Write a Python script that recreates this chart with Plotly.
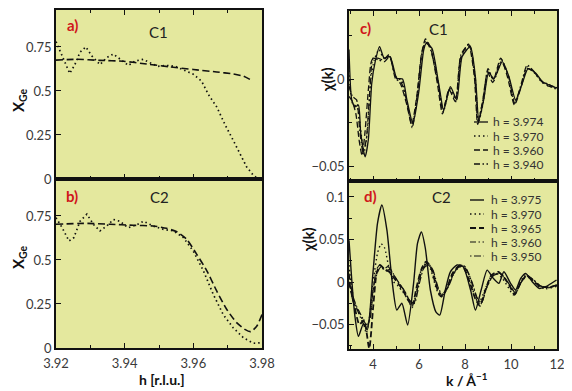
import plotly.graph_objects as go

# page body has an 8px margin; the figure is sized to fill the rest of the window
OFF = 8
W, H = 572 - OFF, 391 - OFF

# ---------------- Panel a (C1): X_Ge vs h ----------------
a_dash_h = [3.920, 3.926, 3.9328, 3.9396, 3.9464, 3.9532, 3.960, 3.9668, 3.9716, 3.9746, 3.977]
a_dash_x = [0.675, 0.68, 0.674, 0.669, 0.653, 0.637, 0.622, 0.608, 0.597, 0.584, 0.56]
a_dot_h = [3.920, 3.9217, 3.924, 3.9255, 3.927, 3.9287, 3.9304, 3.9328, 3.9348, 3.9367, 3.9386,
           3.9411, 3.943, 3.9454, 3.9474, 3.9497, 3.9522, 3.9547, 3.9571, 3.960, 3.9624, 3.9644,
           3.9668, 3.9692, 3.9716, 3.9736, 3.9755, 3.9775, 3.979]
a_dot_x = [0.78, 0.70, 0.60, 0.65, 0.72, 0.75, 0.70, 0.65, 0.69, 0.71, 0.68,
           0.645, 0.67, 0.68, 0.66, 0.64, 0.645, 0.64, 0.62, 0.595, 0.556, 0.48,
           0.41, 0.31, 0.22, 0.145, 0.07, 0.02, 0.0]

# ---------------- Panel b (C2): X_Ge vs h ----------------
b_dash_h = [3.920, 3.928, 3.9357, 3.9425, 3.9483, 3.9522, 3.9552, 3.9581, 3.961, 3.9639,
            3.9668, 3.9697, 3.9726, 3.975, 3.9767, 3.9785, 3.980]
b_dash_x = [0.703, 0.708, 0.703, 0.697, 0.693, 0.68, 0.66, 0.617, 0.532, 0.44,
            0.324, 0.22, 0.144, 0.106, 0.093, 0.125, 0.19]
b_dot_h = [3.920, 3.9218, 3.9238, 3.9252, 3.927, 3.929, 3.931, 3.9328, 3.9348, 3.9367, 3.9386,
           3.941, 3.9435, 3.9455, 3.9483, 3.9513, 3.9542, 3.9571, 3.960, 3.9629, 3.9658,
           3.9687, 3.9716, 3.9746, 3.9775, 3.980]
b_dot_x = [0.74, 0.683, 0.608, 0.627, 0.72, 0.76, 0.70, 0.665, 0.693, 0.73, 0.72,
           0.683, 0.70, 0.72, 0.693, 0.674, 0.665, 0.627, 0.55, 0.44, 0.305,
           0.19, 0.115, 0.058, 0.027, 0.03]

# ---------------- Panel c (C1): chi(k) ----------------
c_labels = ["h = 3.974", "h = 3.970", "h = 3.960", "h = 3.940"]
c1_k = [2.95, 3.07, 3.21, 3.36, 3.46, 3.65, 3.79, 3.94, 4.09, 4.28, 4.48, 4.74, 5.03, 5.28, 5.47,
        5.73, 5.98, 6.2, 6.31, 6.56, 6.85, 7.07, 7.36, 7.64, 7.87, 8.23, 8.45, 8.6, 8.81, 9.03,
        9.25, 9.62, 9.91, 10.2, 10.49, 10.74, 11.08, 11.37, 11.66, 11.98]
c1_chi = [0.017, -0.012, -0.016, -0.015, -0.031, -0.0447, -0.035, -0.0025, 0.010, 0.0186, 0.012,
          0.0128, 0.0004, 0.0, -0.012, -0.0255, -0.008, 0.0167, 0.0205, 0.0176, -0.0025, -0.0178,
          -0.0044, -0.012, 0.0128, 0.0186, 0.0013, -0.0236, -0.012, 0.004, 0.0, 0.010, 0.0013,
          -0.012, -0.0025, 0.006, 0.0033, -0.0016, -0.0034, -0.0053]
c2_k = [2.95, 3.1, 3.3, 3.45, 3.6, 3.75, 3.9, 4.05, 4.25, 4.45, 4.7, 5.0, 5.25, 5.45, 5.7, 5.95,
        6.15, 6.3, 6.55, 6.85, 7.05, 7.35, 7.6, 7.85, 8.2, 8.45, 8.58, 8.8, 9.0, 9.25, 9.6, 9.9,
        10.18, 10.47, 10.72, 11.05, 11.35, 11.65, 12.0]
c2_chi = [0.005, -0.014, -0.016, -0.028, -0.043, -0.03, 0.0, 0.011, 0.017, 0.012, 0.013, 0.001,
          -0.001, -0.013, -0.027, -0.007, 0.016, 0.021, 0.017, -0.004, -0.019, -0.005, -0.013,
          0.013, 0.019, 0.0, -0.025, -0.013, 0.005, -0.001, 0.011, 0.001, -0.013, -0.003, 0.007,
          0.003, -0.002, -0.004, -0.006]
c3_k = [2.95, 3.1, 3.25, 3.4, 3.52, 3.65, 3.8, 3.95, 4.2, 4.45, 4.7, 4.95, 5.2, 5.45, 5.68, 5.9,
        6.1, 6.28, 6.5, 6.8, 7.02, 7.3, 7.58, 7.8, 8.15, 8.4, 8.55, 8.75, 8.98, 9.2, 9.55, 9.85,
        10.15, 10.45, 10.7, 11.0, 11.3, 11.6, 12.0]
c3_chi = [-0.01, -0.013, -0.02, -0.036, -0.044, -0.03, -0.005, 0.011, 0.012, 0.011, 0.014, 0.002,
          -0.003, -0.014, -0.026, -0.01, 0.014, 0.023, 0.018, -0.003, -0.02, -0.006, -0.013, 0.012,
          0.02, 0.002, -0.026, -0.014, 0.004, -0.002, 0.012, 0.001, -0.015, -0.004, 0.006, 0.004,
          -0.001, -0.004, -0.005]
c4_k = [2.95, 3.1, 3.28, 3.42, 3.56, 3.7, 3.85, 4.0, 4.22, 4.5, 4.72, 4.98, 5.22, 5.45, 5.7, 5.92,
        6.12, 6.3, 6.52, 6.82, 7.04, 7.32, 7.6, 7.82, 8.18, 8.42, 8.56, 8.78, 9.0, 9.22, 9.58, 9.88,
        10.16, 10.46, 10.7, 11.02, 11.32, 11.62, 12.0]
c4_chi = [-0.004, -0.01, -0.012, -0.03, -0.042, -0.035, -0.008, 0.012, 0.011, 0.010, 0.013, 0.0,
          -0.002, -0.012, -0.028, -0.009, 0.015, 0.022, 0.016, -0.002, -0.018, -0.006, -0.011,
          0.014, 0.02, 0.001, -0.024, -0.012, 0.006, 0.0, 0.010, 0.002, -0.014, -0.002, 0.008,
          0.004, -0.001, -0.003, -0.005]

# ---------------- Panel d (C2): chi(k) ----------------
d_labels = ["h = 3.975", "h = 3.970", "h = 3.965", "h = 3.960", "h = 3.950"]
d1_k = [2.95, 3.07, 3.21, 3.36, 3.58, 3.75, 3.99, 4.19, 4.38, 4.6, 4.82, 5.03, 5.25, 5.5, 5.76,
        5.93, 6.1, 6.27, 6.49, 6.73, 6.9, 7.14, 7.36, 7.65, 7.92, 8.24, 8.45, 8.7, 8.96, 9.23,
        9.47, 9.69, 9.98, 10.2, 10.42, 10.64, 10.93, 11.22, 11.51, 11.98]
d1_chi = [0.049, 0.0024, -0.041, -0.064, -0.049, -0.056, 0.010, 0.069, 0.0906, 0.061, 0.0024,
          -0.033, -0.025, -0.0506, -0.0016, 0.0455, 0.059, 0.04, -0.0094, -0.035, -0.039, -0.0094,
          0.012, 0.02, 0.018, -0.0094, -0.033, -0.0094, 0.014, 0.0043, -0.0016, 0.012, -0.0016,
          -0.0094, 0.0043, 0.010, 0.0, -0.0075, -0.0055, 0.0024]
d2_k = [2.95, 3.15, 3.35, 3.55, 3.7, 3.85, 4.0, 4.2, 4.35, 4.5, 4.7, 4.9, 5.1, 5.3, 5.5, 5.7, 5.9,
        6.1, 6.3, 6.5, 6.75, 6.95, 7.15, 7.4, 7.65, 7.9, 8.15, 8.4, 8.6, 8.85, 9.1, 9.35, 9.6, 9.85,
        10.1, 10.35, 10.6, 10.9, 11.2, 11.5, 12.0]
d2_chi = [0.02, -0.02, -0.035, -0.045, -0.06, -0.04, 0.0, 0.035, 0.045, 0.04, 0.015, 0.0, -0.005,
          -0.012, -0.02, -0.03, -0.01, 0.015, 0.022, 0.015, -0.008, -0.018, -0.01, 0.005, 0.015,
          0.02, 0.01, -0.015, -0.025, -0.01, 0.005, 0.01, 0.005, -0.005, -0.015, -0.003, 0.008,
          0.003, -0.005, -0.008, -0.005]
d3_k = [2.95, 3.2, 3.4, 3.6, 3.83, 4.0, 4.15, 4.3, 4.5, 4.7, 4.9, 5.1, 5.3, 5.5, 5.7, 5.9, 6.1,
        6.3, 6.5, 6.75, 6.95, 7.2, 7.45, 7.7, 7.95, 8.2, 8.45, 8.65, 8.9, 9.15, 9.45, 9.7, 9.95,
        10.15, 10.4, 10.65, 10.95, 11.25, 11.6, 12.0]
d3_chi = [0.0, -0.03, -0.05, -0.045, -0.078, -0.03, 0.01, 0.02, 0.015, 0.012, 0.005, -0.002, -0.01,
          -0.02, -0.028, -0.005, 0.015, 0.024, 0.018, -0.005, -0.017, -0.008, 0.01, 0.018, 0.016,
          0.0, -0.02, -0.028, -0.008, 0.008, 0.012, 0.005, -0.005, -0.015, -0.002, 0.007, 0.002,
          -0.005, -0.006, -0.004]
d4_k = [2.95, 3.1, 3.3, 3.5, 3.7, 3.85, 4.0, 4.15, 4.3, 4.45, 4.65, 4.9, 5.1, 5.35, 5.55, 5.75,
        5.95, 6.15, 6.35, 6.55, 6.8, 7.0, 7.25, 7.5, 7.75, 8.0, 8.25, 8.5, 8.68, 8.92, 9.18, 9.45,
        9.7, 9.95, 10.18, 10.42, 10.68, 10.95, 11.25, 11.6, 12.0]
d4_chi = [0.01, -0.015, -0.03, -0.04, -0.05, -0.045, -0.01, 0.015, 0.02, 0.015, 0.018, 0.008, 0.0,
          -0.01, -0.02, -0.027, -0.005, 0.015, 0.022, 0.017, -0.006, -0.016, -0.006, 0.01, 0.02,
          0.018, 0.003, -0.018, -0.026, -0.008, 0.006, 0.011, 0.006, -0.004, -0.014, -0.001, 0.008,
          0.003, -0.004, -0.007, -0.004]
d5_k = [2.95, 3.1, 3.3, 3.5, 3.7, 3.87, 4.02, 4.2, 4.35, 4.55, 4.75, 4.95, 5.15, 5.4, 5.6, 5.8,
        6.0, 6.2, 6.4, 6.6, 6.85, 7.05, 7.3, 7.55, 7.8, 8.05, 8.3, 8.55, 8.72, 8.95, 9.2, 9.5, 9.75,
        10.0, 10.2, 10.45, 10.7, 11.0, 11.3, 11.65, 12.0]
d5_chi = [0.005, -0.02, -0.032, -0.045, -0.055, -0.04, -0.005, 0.012, 0.018, 0.013, 0.015, 0.006,
          -0.002, -0.012, -0.022, -0.025, -0.003, 0.016, 0.02, 0.014, -0.008, -0.015, -0.004,
          0.012, 0.019, 0.015, 0.0, -0.02, -0.024, -0.006, 0.007, 0.01, 0.004, -0.006, -0.013,
          0.0, 0.007, 0.002, -0.005, -0.006, -0.003]

# ---------------- styles ----------------
BG = "#e4e89e"
INK = "#111111"
SOLID = "solid"
DOT = "1.5px,3px"
DASH = "6px,3px"
DASHDOT = "6px,2.5px,1.5px,2.5px"
LDASHDOT = "1.5px,2.5px,7px,2.5px"

def px_x(p):
    return (p - OFF) / W

def px_y(p):
    return 1 - (p - OFF) / H

fig = go.Figure()

def add(x, y, xa, ya, dash, width=1.4, shape="spline"):
    fig.add_trace(go.Scatter(x=x, y=y, mode="lines", xaxis=xa, yaxis=ya, showlegend=False,
                             hoverinfo="skip",
                             line=dict(color=INK, width=width, dash=dash, shape=shape,
                                       smoothing=0.6)))

add(a_dash_h, a_dash_x, "x", "y", "7px,3.5px", 1.6)
add(a_dot_h, a_dot_x, "x", "y", DOT, 1.7, "linear")
add(b_dash_h, b_dash_x, "x2", "y2", "7px,3.5px", 1.6)
add(b_dot_h, b_dot_x, "x2", "y2", DOT, 1.7, "linear")

c_series = [(c1_k, c1_chi, SOLID), (c2_k, c2_chi, DOT), (c3_k, c3_chi, DASH), (c4_k, c4_chi, DASHDOT)]
for k, chi, ds in c_series:
    add(k, chi, "x3", "y3", ds, 1.3)
d_series = [(d1_k, d1_chi, SOLID, 1.4), (d2_k, d2_chi, DOT, 1.4), (d3_k, d3_chi, DASH, 1.8),
            (d4_k, d4_chi, DASHDOT, 1.2), (d5_k, d5_chi, LDASHDOT, 1.2)]
for k, chi, ds, w in d_series:
    add(k, chi, "x4", "y4", ds, w)

# ---------------- axes ----------------
TICKFONT = dict(family="Lato", size=13, color="#3a3a3a")
LEFT = [px_x(56), px_x(262)]
RIGHT = [px_x(349), px_x(557)]
TOPDOM_L = [px_y(179), px_y(10)]
BOTDOM_L = [px_y(348), px_y(179)]
TOPDOM_R = [px_y(181), px_y(11)]
BOTDOM_R = [px_y(349), px_y(181)]

def xax(domain, anchor, rng, dtick, minor, labels, mirror):
    return dict(domain=domain, anchor=anchor, range=rng, dtick=dtick, tick0=rng[0] if dtick < 1 else 0,
                showline=True, linecolor=INK, linewidth=1.5, mirror=mirror,
                ticks="inside", ticklen=5, tickwidth=1, tickcolor=INK,
                minor=dict(dtick=minor, ticks="inside", ticklen=3, tickwidth=1, tickcolor=INK),
                showticklabels=labels, tickfont=TICKFONT, showgrid=False, zeroline=False,
                automargin=False, ticklabelstandoff=3)

def yax(domain, anchor, rng, dtick, minor=None):
    d = dict(domain=domain, anchor=anchor, range=rng, dtick=dtick, tick0=0,
             showline=True, linecolor=INK, linewidth=1.5, mirror=True,
             ticks="inside", ticklen=5, tickwidth=1, tickcolor=INK,
             tickfont=TICKFONT, showgrid=False, zeroline=False, automargin=False,
             exponentformat="none", tickformat="~g")
    if minor:
        d["minor"] = dict(dtick=minor, ticks="inside", ticklen=3, tickwidth=1, tickcolor=INK)
    return d

fig.update_layout(
    width=W, height=H,
    margin=dict(l=0, r=0, t=0, b=0),
    paper_bgcolor="white", plot_bgcolor=BG,
    font=dict(family="Lato", color="#222"),
    showlegend=False,
    xaxis=xax(LEFT, "y", [3.92, 3.98], 0.02, 0.01, False, "allticks"),
    yaxis=yax(TOPDOM_L, "x", [0, 0.96], 0.25),
    xaxis2=xax(LEFT, "y2", [3.92, 3.98], 0.02, 0.01, True, True),
    yaxis2=yax(BOTDOM_L, "x2", [0, 0.96], 0.25),
    xaxis3=xax(RIGHT, "y3", [2.95, 12.0], 2, 1, False, "allticks"),
    yaxis3=yax(TOPDOM_R, "x3", [-0.0586, 0.0391], 0.05, 0.025),
    xaxis4=xax(RIGHT, "y4", [2.95, 12.0], 2, 1, True, True),
    yaxis4=yax(BOTDOM_R, "x4", [-0.0788, 0.1188], 0.05, 0.025),
)

ann = []
def text(xp, yp, s, size=14, color="#222", angle=0, xanchor="center", pad=1):
    ann.append(dict(x=px_x(xp), y=px_y(yp), xref="paper", yref="paper", text=s, showarrow=False,
                    font=dict(family="Lato", size=size, color=color), textangle=angle,
                    xanchor=xanchor, yanchor="middle", borderpad=pad))

RED = "#d0161b"
text(72, 25, "<b>a)</b>", 15, RED)
text(158, 32, "C1", 15)
text(72, 196, "<b>b)</b>", 15, RED)
text(159, 197, "C2", 15)
text(365, 28, "<b>c)</b>", 15, RED)
text(438, 29, "C1", 15)
text(370, 196, "<b>d)</b>", 15, RED)
text(442, 197, "C2", 15)

text(19, 100, "<b>X<sub>Ge</sub></b>", 15, "#111", -90)
text(19, 257, "<b>X<sub>Ge</sub></b>", 15, "#111", -90)
text(327, 80, "<b>χ(k)</b>", 15, "#111", -90)
text(308, 240, "<b>χ(k)</b>", 15, "#111", -90)
text(162, 379, "<b>h [r.l.u.]</b>", 14, "#111")
text(467, 379, "<b>k / Å<sup>−1</sup></b>", 14, "#111")

# legends (text + short line samples)
shapes = []
c_dashes = [SOLID, DOT, DASH, DASHDOT]
for i, lab in enumerate(c_labels):
    yy = 122 + i * 14
    text(492, yy, lab, 12, "#333", xanchor="left", pad=0)
    shapes.append(dict(type="line", xref="paper", yref="paper", x0=px_x(474), x1=px_x(488),
                       y0=px_y(yy), y1=px_y(yy), line=dict(color=INK, width=1.3, dash=c_dashes[i])))
d_dashes = [SOLID, DOT, DASH, DASHDOT, LDASHDOT]
d_w = [1.4, 1.4, 1.8, 1.2, 1.2]
for i, lab in enumerate(d_labels):
    yy = 200 + i * 14
    text(490, yy, lab, 12, "#333", xanchor="left", pad=0)
    shapes.append(dict(type="line", xref="paper", yref="paper", x0=px_x(470), x1=px_x(484),
                       y0=px_y(yy), y1=px_y(yy), line=dict(color=INK, width=d_w[i], dash=d_dashes[i])))

fig.update_layout(annotations=ann, shapes=shapes)
fig.write_html("out.html")
